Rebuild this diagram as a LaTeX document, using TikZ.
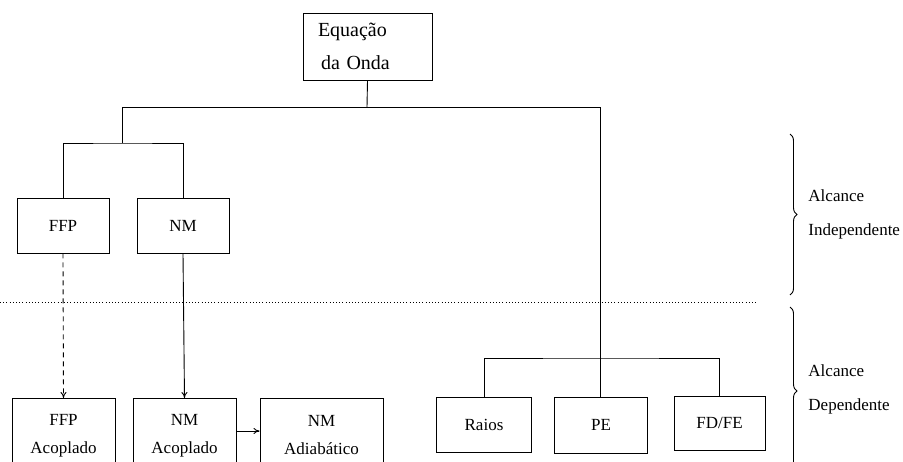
\documentclass[tikz,border=0pt]{standalone}
\usepackage{fontspec}
\setmainfont{Liberation Serif}
\usetikzlibrary{arrows.meta,decorations.pathreplacing}
\begin{document}
\begin{tikzpicture}[x=1pt,y=-1pt,
  font=\fontsize{17}{20}\selectfont,
  line width=0.9pt,
  box/.style={draw, rectangle, inner sep=0pt, align=center},
  arr/.style={-{To[length=6pt,width=6pt]}},
  bracedeco/.style={decorate, decoration={brace, amplitude=7pt}},
  lbl/.style={anchor=west, inner sep=0pt}]
\useasboundingbox (0,0) rectangle (903,461);
\clip (0,0) rectangle (903,461);
\fill[white] (0,0) rectangle (903,461);
% top
\node[box, font=\fontsize{20}{24}\selectfont, align=left, text width=99pt, inner xsep=15pt, minimum height=67pt] (eq) at (367.5,46.5) {Equação\\[9pt]\hspace{3pt}da Onda};
\coordinate (j0) at (367,107);
\coordinate (jl) at (122,107);
\coordinate (jr) at (600,107);
\coordinate (jl2) at (122,143);
\coordinate (jr2) at (600,358);
\draw (eq.south) -- (j0);
\draw (jl) -- (jr);
\draw (jl) -- (jl2);
% second level
\node[box, minimum width=92pt, minimum height=55pt] (ffp) at (63,225.5) {FFP};
\node[box, minimum width=92pt, minimum height=55pt] (nm) at (183,225.5) {NM};
\draw (ffp.north) |- (jl2) -| (nm.north);
% bottom left
\node[box, anchor=north, minimum width=103pt, minimum height=74pt] (ffpa) at (63.5,398) {FFP\\[8pt]Acoplado};
\node[box, anchor=north, minimum width=103pt, minimum height=74pt] (nma) at (184.5,398) {NM\\[8pt]Acoplado};
\node[box, anchor=north, minimum width=123pt, minimum height=74pt] (nmad) at (321.5,398) {NM\\[8pt]Adiabático};
\draw[arr, dash pattern=on 5pt off 4pt] (ffp.south) -- (ffpa.north);
\draw[arr] (nm.south) -- (nma.north);
\draw[arr] (nma.east |- 0,431) -- (nmad.west |- 0,431);
% right
\node[box, minimum width=95pt, minimum height=55pt] (raios) at (484,424.5) {Raios};
\node[box, minimum width=93pt, minimum height=56pt] (pe) at (601,425) {PE};
\node[box, minimum width=91pt, minimum height=54pt] (fdfe) at (719.5,423) {FD/FE};
\draw (jr) -- (pe.north -| jr);
\draw (raios.north) |- (jr2) -| (fdfe.north);
% dotted separator
\coordinate (d0) at (0,302);
\coordinate (d1) at (757,302);
\draw[dash pattern=on 1pt off 2.2pt] (d0) -- (d1);
% braces
\coordinate (b1) at (790,134);
\coordinate (b2) at (790,295);
\coordinate (b3) at (790,307);
\coordinate (b4) at (790,475);
\draw[bracedeco] (b1) -- (b2);
\draw[bracedeco] (b3) -- (b4);
\node[lbl] (ai) at (808,196) {Alcance};
\node[lbl] (ii) at (808,231) {Independente};
\node[lbl] (ad) at (808,371) {Alcance};
\node[lbl] (dd) at (808,406) {Dependente};
\end{tikzpicture}
\end{document}
